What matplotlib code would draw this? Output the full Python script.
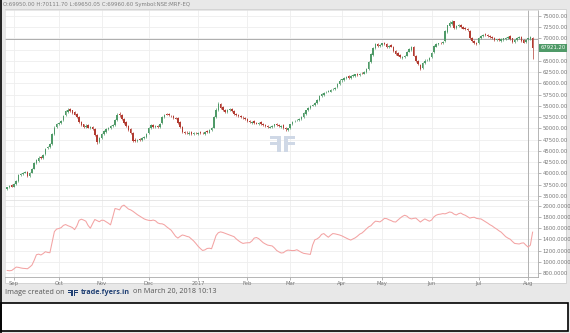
import numpy as np
import matplotlib.pyplot as plt
import matplotlib.transforms as mtransforms
from matplotlib.patches import Rectangle, PathPatch
from matplotlib.lines import Line2D
from matplotlib.textpath import TextPath
from matplotlib.font_manager import FontProperties
from matplotlib.ticker import MultipleLocator, FuncFormatter

# daily OHLC, NSE:MRF-EQ, late Aug 2016 .. early Aug 2017
opens = [
    36500, 36900, 37400, 37100, 37700, 38300, 39700, 39800, 40200, 40400,
    39500, 40200, 41100, 42400, 42800, 43600, 43500, 44300, 45600, 45800,
    46600, 48700, 50300, 51000, 51200, 51800, 52900, 53700, 54300, 54000,
    53600, 53200, 52600, 51400, 50900, 50300, 50700, 50100, 50400, 49800,
    48600, 46900, 47900, 48800, 49300, 49900, 50100, 50600, 50800, 51900,
    53300, 53000, 52200, 51400, 50600, 49800, 49100, 47500, 47200, 47600,
    47400, 47900, 48000, 48900, 50100, 50800, 50300, 50600, 50400, 51200,
    52500, 53200, 53200, 52800, 52800, 52300, 52300, 51400, 50400, 49200,
    49100, 48800, 49200, 48700, 49100, 48800, 49200, 49100, 48800, 49400,
    49100, 49600, 50200, 52500, 54100, 55500, 54700, 54200, 53600, 54000,
    54400, 53900, 53300, 52900, 52800, 52400, 52400, 52100, 51700, 51300,
    51600, 51300, 51000, 51400, 51000, 50700, 50600, 50200, 50400, 50600,
    51000, 50800, 50400, 50700, 50200, 49700, 50000, 50900, 51600, 51800,
    51800, 52100, 52600, 53300, 54100, 54500, 55100, 55200, 55700, 56400,
    57300, 57500, 58000, 58200, 58200, 58700, 58700, 59200, 59800, 60700,
    60800, 61300, 61600, 61200, 61700, 61700, 62100, 61800, 62400, 62200,
    62500, 63200, 64700, 66400, 67900, 68800, 68300, 68500, 69000, 68800,
    68000, 68500, 68200, 67300, 66700, 66400, 65700, 65800, 66200, 67100,
    67500, 68200, 66100, 65100, 64200, 63400, 64500, 65200, 65200, 65800,
    66900, 68200, 68800, 69100, 68900, 69400, 71500, 72700, 73300, 73800,
    72300, 72700, 73100, 72600, 72300, 72100, 71700, 70200, 69500, 69000,
    68900, 70100, 70500, 71000, 70800, 70600, 70400, 70100, 69600, 69900,
    69500, 69700, 69900, 70100, 70500, 70000, 69300, 69700, 70000, 70400,
    69600, 69200, 69950.00, 69900, 70200,
]
highs = [
    37100, 37500, 37600, 37800, 38500, 39800, 40100, 40400, 40600, 40500,
    40300, 41200, 42500, 43200, 43800, 43900, 44400, 45700, 46200, 46700,
    49000, 50500, 51200, 51500, 51900, 53000, 54100, 54500, 54500, 54200,
    53800, 53400, 52800, 51600, 51100, 50900, 50900, 50500, 50600, 50000,
    48800, 48200, 49000, 49600, 50000, 50400, 50800, 51000, 52000, 53400,
    53600, 53200, 52400, 51600, 50800, 50100, 49300, 47800, 47700, 47800,
    48000, 48300, 49000, 50400, 51000, 51100, 50700, 50800, 51300, 52800,
    53300, 53500, 53400, 53100, 53000, 52600, 52500, 51600, 50600, 49500,
    49400, 49400, 49400, 49300, 49300, 49300, 49400, 49300, 49500, 49600,
    49800, 50300, 52800, 54500, 55800, 55700, 54900, 54400, 54300, 54500,
    54600, 54100, 53500, 53200, 53000, 52700, 52600, 52300, 51900, 51700,
    51800, 51500, 51500, 51600, 51200, 50900, 50800, 50600, 50800, 51100,
    51200, 51000, 50800, 50900, 50400, 50200, 51100, 51700, 51900, 52100,
    52300, 52800, 53600, 54200, 54800, 55200, 55500, 55800, 56600, 57500,
    57900, 58100, 58300, 58500, 58800, 59000, 59300, 60000, 60900, 61100,
    61400, 61600, 61800, 61800, 62000, 62200, 62300, 62400, 62600, 62700,
    63400, 65000, 66800, 68100, 69000, 69000, 68800, 69100, 69300, 68900,
    68600, 68700, 68400, 67500, 66900, 66600, 66000, 66300, 67200, 67800,
    68300, 68400, 66300, 65300, 64400, 64800, 65400, 65500, 65900, 67000,
    68500, 68900, 69100, 69300, 69500, 71800, 73100, 73800, 74100, 73900,
    73000, 73200, 73200, 72800, 72500, 72300, 71900, 70400, 69700, 69200,
    70400, 70800, 70900, 71200, 71000, 70800, 70600, 70300, 69900, 70100,
    70000, 70200, 70300, 70600, 70700, 70200, 69900, 70300, 70600, 70600,
    69800, 69800, 70111.70, 70500, 70400,
]
lows = [
    36300, 36700, 36900, 36900, 37500, 38100, 39500, 39600, 40000, 39300,
    39300, 40000, 40900, 42200, 42600, 43200, 43300, 44100, 45400, 45600,
    46400, 48500, 50100, 50800, 51000, 51600, 52700, 53500, 53700, 53300,
    52900, 52300, 51300, 50600, 50200, 50100, 50000, 49900, 49700, 48300,
    46500, 46700, 47700, 48600, 49100, 49700, 49900, 50400, 50600, 51700,
    52600, 51900, 51100, 50300, 49500, 48800, 47100, 46900, 47000, 47300,
    47200, 47700, 47800, 48700, 49900, 50200, 50100, 50200, 50200, 51000,
    52300, 52900, 52700, 52500, 52200, 52000, 51100, 50100, 49100, 48800,
    48700, 48600, 48600, 48500, 48700, 48600, 48800, 48700, 48600, 49000,
    48900, 49400, 50000, 52300, 53900, 54400, 53800, 53500, 53400, 53800,
    53600, 53000, 52700, 52500, 52300, 52100, 51800, 51400, 51200, 51100,
    51000, 50900, 50800, 50700, 50500, 50300, 50100, 50000, 50200, 50400,
    50500, 50300, 50200, 49900, 49400, 49500, 49800, 50700, 51400, 51600,
    51600, 51900, 52400, 53100, 53900, 54300, 54900, 55000, 55500, 56200,
    57100, 57300, 57800, 58000, 58000, 58500, 58500, 59000, 59600, 60400,
    60600, 61100, 61100, 61000, 61500, 61500, 61700, 61600, 62100, 62000,
    62300, 63000, 64500, 66200, 67700, 68200, 68100, 68300, 68500, 67900,
    67800, 68000, 67000, 66400, 66000, 65700, 65500, 65600, 66000, 66900,
    67300, 66000, 64800, 64100, 63000, 63200, 64300, 65000, 65000, 65600,
    66700, 68000, 68600, 68800, 68700, 69200, 71300, 72500, 73100, 72200,
    72100, 72500, 72300, 72000, 71800, 71600, 69900, 69200, 68700, 68500,
    68700, 69900, 70300, 70600, 70300, 70100, 69800, 69500, 69400, 69400,
    69300, 69500, 69700, 69900, 69700, 69100, 69100, 69500, 69800, 69300,
    68900, 69000, 69650.05, 69700, 65500,
]
closes = [
    36900, 37300, 37100, 37600, 38300, 39600, 39900, 40100, 40300, 39500,
    40100, 41000, 42300, 42900, 43500, 43400, 44200, 45500, 45900, 46500,
    48800, 50200, 50900, 51300, 51700, 52800, 53800, 54200, 53900, 53500,
    53100, 52500, 51500, 50800, 50400, 50600, 50200, 50300, 49900, 48500,
    46900, 47900, 48700, 49400, 49800, 50200, 50500, 50700, 51800, 53100,
    52900, 52100, 51300, 50500, 49700, 49000, 47300, 47200, 47400, 47500,
    47800, 48000, 48800, 50200, 50700, 50400, 50500, 50400, 51100, 52600,
    53000, 53100, 52900, 52700, 52400, 52200, 51300, 50300, 49300, 49000,
    48900, 49100, 48800, 49000, 48900, 49100, 49000, 48900, 49300, 49200,
    49600, 50100, 52600, 54200, 55400, 54600, 54000, 53700, 54100, 54300,
    53800, 53200, 52900, 52700, 52500, 52300, 52000, 51600, 51400, 51500,
    51200, 51100, 51300, 50900, 50700, 50500, 50300, 50400, 50600, 50900,
    50700, 50500, 50600, 50100, 49800, 50000, 50900, 51500, 51700, 51900,
    52100, 52600, 53400, 54000, 54600, 55000, 55300, 55600, 56400, 57200,
    57600, 57900, 58100, 58300, 58600, 58800, 59100, 59800, 60600, 60900,
    61200, 61400, 61300, 61600, 61800, 62000, 61900, 62200, 62300, 62500,
    63200, 64800, 66500, 67800, 68700, 68400, 68600, 68900, 68700, 68100,
    68400, 68200, 67200, 66600, 66200, 65900, 65800, 66100, 67000, 67600,
    68100, 66200, 65000, 64300, 63300, 64600, 65100, 65300, 65700, 66800,
    68300, 68700, 68900, 69000, 69300, 71600, 72900, 73500, 73700, 72400,
    72800, 73000, 72500, 72200, 72000, 71800, 70100, 69400, 68900, 68800,
    70200, 70600, 70700, 70800, 70500, 70300, 70000, 69700, 69800, 69600,
    69800, 70000, 70100, 70400, 69900, 69300, 69700, 70100, 70400, 69500,
    69100, 69600, 69960.60, 70300, 67921.20,
]
# lower pane indicator (pink line)
indicator = [
    850, 845, 850, 880, 910, 905, 895, 888, 885, 880,
    910, 945, 1030, 1130, 1140, 1125, 1150, 1183, 1170, 1165,
    1350, 1540, 1585, 1595, 1610, 1650, 1665, 1645, 1630, 1612,
    1575, 1640, 1740, 1760, 1745, 1725, 1650, 1600, 1680, 1755,
    1735, 1715, 1742, 1740, 1715, 1690, 1660, 1800, 1950, 1940,
    1925, 1990, 2010, 1975, 1940, 1925, 1900, 1870, 1840, 1815,
    1790, 1765, 1750, 1740, 1735, 1745, 1732, 1695, 1680, 1678,
    1660, 1625, 1595, 1565, 1510, 1455, 1425, 1455, 1480, 1470,
    1455, 1445, 1410, 1375, 1330, 1280, 1240, 1205, 1215, 1240,
    1245, 1236, 1350, 1470, 1520, 1535, 1525, 1510, 1495, 1478,
    1465, 1450, 1410, 1378, 1350, 1330, 1338, 1342, 1343, 1375,
    1425, 1435, 1415, 1380, 1343, 1320, 1300, 1292, 1285, 1250,
    1205, 1180, 1160, 1165, 1195, 1212, 1208, 1203, 1205, 1218,
    1195, 1172, 1154, 1148, 1142, 1135, 1300, 1395, 1410, 1440,
    1490, 1505, 1470, 1440, 1475, 1505, 1500, 1490, 1480, 1465,
    1445, 1425, 1405, 1390, 1410, 1430, 1460, 1495, 1515, 1550,
    1590, 1625, 1645, 1690, 1725, 1720, 1712, 1740, 1775, 1770,
    1750, 1735, 1715, 1710, 1745, 1780, 1810, 1830, 1815, 1780,
    1765, 1775, 1780, 1745, 1710, 1740, 1765, 1745, 1725, 1745,
    1800, 1830, 1845, 1850, 1860, 1855, 1870, 1888, 1880, 1850,
    1835, 1858, 1870, 1845, 1830, 1805, 1780, 1790, 1795, 1775,
    1768, 1765, 1740, 1716, 1690, 1662, 1640, 1610, 1585, 1555,
    1530, 1490, 1450, 1425, 1405, 1365, 1330, 1325, 1320, 1335,
    1340, 1300, 1265, 1300, 1530,
]
month_labels = ['Sep', 'Oct', 'Nov', 'Dec', '2017', 'Feb', 'Mar', 'Apr',
                'May', 'Jun', 'Jul', 'Aug']
month_start = [3, 23, 42, 63, 85, 107, 126, 149, 167, 189, 210, 232]
hover_idx = 232

W, H = 570, 333
GREEN = '#4f9a68'
RED = '#b23b31'


def fx(px):
    return px / W


def fy(py):
    return 1 - py / H


fig = plt.figure(figsize=(W / 100, H / 100), dpi=100)
fig.patch.set_facecolor('#e8e8e8')

# white chart card and the empty box below the screenshot
fig.add_artist(Rectangle((fx(5), fy(283)), fx(566) - fx(5), fy(9) - fy(283),
                         transform=fig.transFigure, fc='white', ec='#cfcfcf', lw=0.6, zorder=0))
fig.add_artist(Rectangle((fx(1), fy(331)), fx(568) - fx(1), fy(303) - fy(331),
                         transform=fig.transFigure, fc='white', ec='black', lw=1.2, zorder=1))
fig.add_artist(Line2D([fx(1), fx(1)], [0, 1], transform=fig.transFigure, color='black', lw=1.2))

ax1 = fig.add_axes([fx(5), fy(200), fx(538) - fx(5), fy(10) - fy(200)])
ax2 = fig.add_axes([fx(5), fy(277), fx(538) - fx(5), fy(200) - fy(277)])

x = np.arange(len(closes))
o = np.array(opens)
c = np.array(closes)
cols = [GREEN if cc >= oo else RED for oo, cc in zip(o, c)]

ax1.vlines(x, lows, highs, colors=cols, lw=0.5, zorder=3)
body = np.where(np.abs(c - o) < 60, 60, c - o)
ax1.bar(x, body, bottom=o, width=0.68, color=cols, lw=0, zorder=4)

ax2.plot(x, indicator, color='#f3a3a3', lw=0.75, zorder=3)

for ax in (ax1, ax2):
    ax.set_facecolor('white')
    ax.set_xlim(-1.0, 236.4)
    ax.set_xticks(month_start)
    ax.grid(True, color='#eeeeee', lw=0.6, zorder=0)
    ax.yaxis.tick_right()
    ax.tick_params(axis='y', length=2, width=0.5, color='#999999', labelsize=3.8,
                   labelcolor='#777777', pad=1.5)
    ax.tick_params(axis='x', length=2, width=0.5, color='#999999', labelsize=3.8,
                   labelcolor='#777777', pad=1)
    for side in ('left', 'top'):
        ax.spines[side].set_color('#dddddd')
        ax.spines[side].set_linewidth(0.5)
    for side in ('right', 'bottom'):
        ax.spines[side].set_color('#aaaaaa')
        ax.spines[side].set_linewidth(0.6)
    ax.axvline(hover_idx, color='#a8a8a8', lw=0.6, zorder=2)


def price_fmt(v, pos):
    # the 67500 label sits under the last-price tag in the original
    if abs(v - 67500) < 1:
        return ''
    return f'{v:.2f}'


ax1.set_ylim(34111, 76333)
ax1.yaxis.set_major_locator(MultipleLocator(2500))
ax1.yaxis.set_major_formatter(FuncFormatter(price_fmt))
ax1.set_xticklabels([])
ax1.tick_params(axis='x', length=0)
ax1.axhline(closes[hover_idx], color='#a0a0a0', lw=0.6, zorder=2)

ax2.set_ylim(734, 2101)
ax2.yaxis.set_major_locator(MultipleLocator(200))
ax2.yaxis.set_major_formatter(FuncFormatter(lambda v, p: f'{v:.4f}'))
ax2.set_xticklabels(month_labels)

# last price tag
ax1.text(1.004, closes[-1], f'{closes[-1]:.2f}',
         transform=mtransforms.blended_transform_factory(ax1.transAxes, ax1.transData),
         ha='left', va='center', fontsize=3.8, color='white', zorder=6,
         bbox=dict(boxstyle='square,pad=0.25', fc=GREEN, ec='none'), clip_on=False)

# header line
fig.text(fx(3), fy(4.5),
         f'O:{opens[hover_idx]:.2f} H:{highs[hover_idx]:.2f} L:{lows[hover_idx]:.2f} '
         f'C:{closes[hover_idx]:.2f} Symbol:NSE:MRF-EQ',
         fontsize=3.9, color='#808080', va='center', ha='left')


def fyers_logo(px, py, size, color):
    # two F's back to back, placed in pixel coordinates
    prop = FontProperties(family='DejaVu Sans', weight='bold')
    tp = TextPath((0, 0), 'F', size=size, prop=prop)
    w = tp.get_extents().width
    left = mtransforms.Affine2D().scale(-1, 1).translate(px + w, H - py)
    right = mtransforms.Affine2D().translate(px + w * 0.92, H - py)
    for tr in (left, right):
        fig.add_artist(PathPatch(tr.transform_path(tp), fc=color, ec='none',
                                 transform=mtransforms.IdentityTransform(), zorder=5))


fyers_logo(272, 152, 22, '#cfd8e6')
fyers_logo(69, 296, 8.5, '#1f3f73')

ff = 'Open Sans'
fig.text(fx(5), fy(292), 'Image created on', fontsize=5.2, color='#555555',
         va='center', ha='left', family=ff)
t2 = fig.text(fx(81), fy(292), 'trade.fyers.in', fontsize=5.2, color='#1f3f73',
              weight='bold', va='center', ha='left', family=ff)
ax2.annotate('on March 20, 2018 10:13', xy=(1, 0.5), xycoords=t2,
             xytext=(2.5, 0), textcoords='offset points', fontsize=5.2,
             color='#555555', va='center', ha='left', family=ff,
             annotation_clip=False)

fig.savefig('out.png', dpi=100, facecolor=fig.get_facecolor())
